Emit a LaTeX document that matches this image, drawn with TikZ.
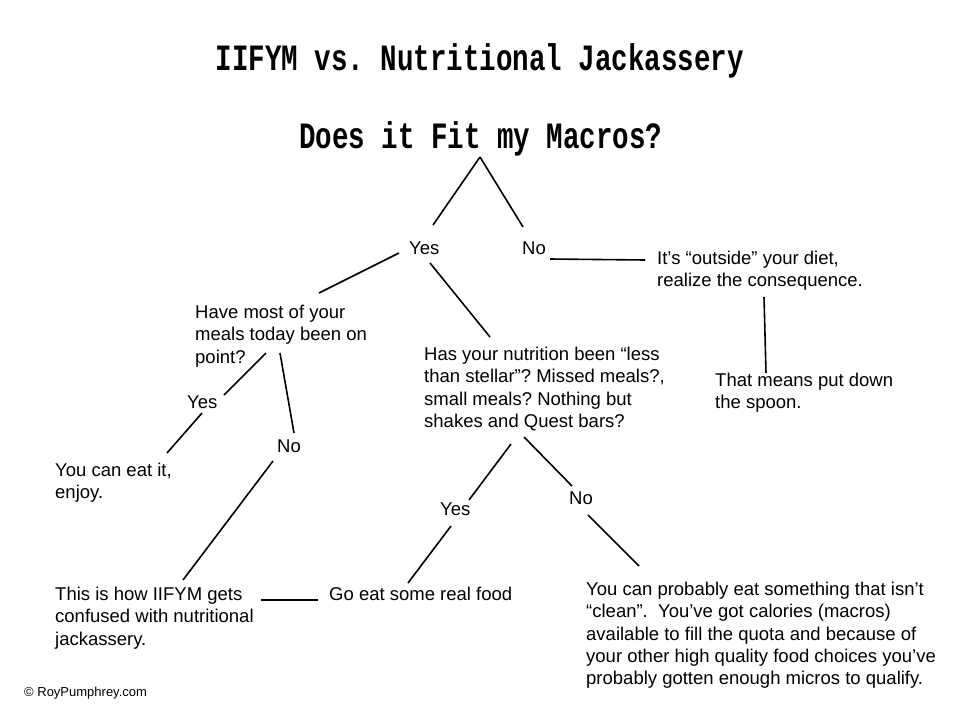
\documentclass[tikz,border=0pt]{standalone}
\usepackage{fontspec}
\usepackage{graphicx}
\setmainfont{Liberation Sans}
\newfontfamily\typewriter{Liberation Mono}
\frenchspacing

\tikzset{
  txt/.style={anchor=north west, inner sep=0pt, align=left,
    font=\fontsize{18.5}{22.3}\selectfont},
  heading/.style={anchor=base, inner sep=0pt,
    font=\typewriter\bfseries\fontsize{27.5}{30}\selectfont},
  branch/.style={line width=1.6pt},
}

\begin{document}
\begin{tikzpicture}[x=1pt,y=-1pt]

\fill[white] (0,0) rectangle (960,720);
\useasboundingbox (0,0) rectangle (960,720);

% Titulos
\node[heading] (title) at (480,70) {\scalebox{1}[1.35]{IIFYM vs. Nutritional Jackassery}};
\node[heading] (macros) at (481,148) {\scalebox{1}[1.35]{Does it Fit my Macros?}};

% Respuestas y preguntas
\node[txt] (yesA) at (409,242) {Yes};
\node[txt] (noA) at (522,242) {No};
\node[txt] (outside) at (657,251) {It’s “outside” your diet,\\realize the consequence.};
\node[txt] (spoon) at (715,373) {That means put down\\the spoon.};
\node[txt] (point) at (195,305) {Have most of your\\meals today been on\\point?};
\node[txt] (stellar) at (424,347) {Has your nutrition been “less\\than stellar”? Missed meals?,\\small meals? Nothing but\\shakes and Quest bars?};
\node[txt] (yesB) at (187,396) {Yes};
\node[txt] (noB) at (277,440) {No};
\node[txt] (enjoy) at (55,463) {You can eat it,\\enjoy.};
\node[txt] (confused) at (55,587) {This is how IIFYM gets\\confused with nutritional\\jackassery.};
\node[txt] (yesC) at (440,503) {Yes};
\node[txt] (noC) at (569,492) {No};
\node[txt] (realfood) at (329,587) {Go eat some real food};
\node[txt] (clean) at (586,582) {You can probably eat something that isn’t\\“clean”. \ You’ve got calories (macros)\\available to fill the quota and because of\\your other high quality food choices you’ve\\probably gotten enough micros to qualify.};
\node[txt, font=\fontsize{13}{15}\selectfont] (copy) at (24,687) {© RoyPumphrey.com};

% Extremos de las ramas
\coordinate (apex) at (480,157);
\coordinate (apexL) at (433,225);
\coordinate (apexR) at (523,227);
\coordinate (noAa) at (550,259);
\coordinate (noAb) at (645,260);
\coordinate (yesAl) at (399,253);
\coordinate (pointT) at (319,293);
\coordinate (yesAd) at (430,263);
\coordinate (stellarT) at (490,337);
\coordinate (pointL) at (266,353);
\coordinate (yesBt) at (224,395);
\coordinate (pointR) at (280,353);
\coordinate (noBt) at (294,433);
\coordinate (yesBb) at (202,413);
\coordinate (enjoyT) at (167,453);
\coordinate (noBb) at (273,461);
\coordinate (confusedT) at (183,580);
\coordinate (confusedR) at (261,600);
\coordinate (realfoodL) at (318,600);
\coordinate (stellarL) at (511,444);
\coordinate (yesCt) at (469,500);
\coordinate (yesCb) at (451,526);
\coordinate (realfoodT) at (408,583);
\coordinate (stellarR) at (524,437);
\coordinate (noCt) at (572,486);
\coordinate (noCb) at (588,515);
\coordinate (cleanT) at (639,566);
\coordinate (outsideB) at (764,297);
\coordinate (spoonT) at (766,373);

% Ramas
\foreach \a/\b in {apex/apexL, apex/apexR, noAa/noAb, yesAl/pointT, yesAd/stellarT,
                   pointL/yesBt, pointR/noBt, yesBb/enjoyT, noBb/confusedT,
                   confusedR/realfoodL, stellarL/yesCt, yesCb/realfoodT,
                   stellarR/noCt, noCb/cleanT, outsideB/spoonT}
  \draw[branch] (\a) -- (\b);

\end{tikzpicture}
\end{document}
